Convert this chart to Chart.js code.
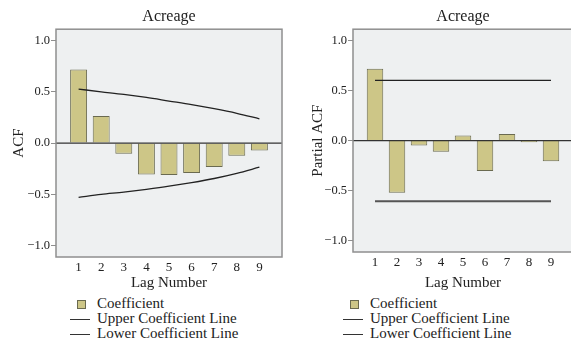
<!DOCTYPE html>
<html>
<head>
<meta charset="utf-8">
<script src="https://cdn.jsdelivr.net/npm/chart.js@4.4.1/dist/chart.umd.min.js"></script>
<style>
  html, body { margin: 0; padding: 0; background: #fff; }
  body { width: 571px; height: 343px; overflow: hidden; position: relative;
         font-family: 'Liberation Serif', 'Times New Roman', serif; color: #222; }
  .panel { position: absolute; top: 0; height: 292px; }
  .legend { position: absolute; top: 296px; font-size: 15px; line-height: 15px; }
  .legend-item { position: relative; height: 15px; padding-left: 27px; white-space: nowrap; }
  .legend-box { position: absolute; left: 7px; top: 4px; width: 7px; height: 7px;
                background: #cdc687; border: 1px solid #6a6a50; }
  .legend-line { position: absolute; left: 0; top: 8px; width: 20px; height: 0;
                 border-top: 1.5px solid #333; }
</style>
</head>
<body>
<div class="panel" style="left:0;width:285px"><canvas id="acfChart"></canvas></div>
<div class="panel" style="left:285px;width:290px"><canvas id="pacfChart"></canvas></div>
<div class="legend" id="acf-legend" style="left:70px"></div>
<div class="legend" id="pacf-legend" style="left:343px"></div>
<script>
// ===== DATA =====
const lags   = [1, 2, 3, 4, 5, 6, 7, 8, 9];
const yTicks = [-1.0, -0.5, 0.0, 0.5, 1.0];

const acf      = [0.717, 0.263, -0.104, -0.306, -0.312, -0.292, -0.234, -0.124, -0.072];
const acfUpper = [0.526, 0.500, 0.475, 0.445, 0.410, 0.375, 0.335, 0.290, 0.237];
const acfLower = [-0.528, -0.500, -0.477, -0.450, -0.420, -0.385, -0.345, -0.295, -0.235];

const pacf      = [0.715, -0.519, -0.050, -0.110, 0.050, -0.303, 0.066, -0.017, -0.207];
const pacfUpper = [0.600, 0.600, 0.600, 0.600, 0.600, 0.600, 0.600, 0.600, 0.600];
const pacfLower = [-0.605, -0.605, -0.605, -0.605, -0.605, -0.605, -0.605, -0.605, -0.605];

const seriesNames = ['Coefficient', 'Upper Coefficient Line', 'Lower Coefficient Line'];
const chartTitle  = 'Acreage';

const SERIF = "'Liberation Serif', 'Times New Roman', serif";
const BAR_FILL = '#cdc687';
const BAR_EDGE = '#6a6a50';

const fmtTick = v => v.toFixed(1).replace('-', '\u2212');
const pts = arr => lags.map((l, i) => ({ x: l, y: arr[i] }));

// plot background, frame and zero line
const framePlugin = {
  id: 'frame',
  beforeDatasetsDraw(chart) {
    const { ctx, chartArea: a } = chart;
    ctx.save();
    ctx.fillStyle = '#eef0f1';
    ctx.fillRect(a.left, a.top, a.width, a.height);
    ctx.restore();
  },
  afterDatasetsDraw(chart) {
    const { ctx, chartArea: a, scales } = chart;
    const y0 = scales.y.getPixelForValue(0);
    ctx.save();
    ctx.strokeStyle = '#333';
    ctx.lineWidth = 1.2;
    ctx.beginPath();
    ctx.moveTo(a.left, y0);
    ctx.lineTo(a.right, y0);
    ctx.stroke();
    ctx.strokeStyle = '#8f8f8f';
    ctx.lineWidth = 1.5;
    ctx.strokeRect(a.left, a.top, a.width, a.height);
    ctx.restore();
  }
};

function makeChart(id, cfg) {
  const canvas = document.getElementById(id);
  return new Chart(canvas, {
    type: 'bar',
    data: {
      datasets: [
        {
          label: seriesNames[0],
          data: pts(cfg.coef),
          backgroundColor: BAR_FILL,
          borderColor: BAR_EDGE,
          borderWidth: 1,
          barPercentage: 0.75,
          categoryPercentage: 1,
          order: 2,
        },
        {
          type: 'line',
          label: seriesNames[1],
          data: pts(cfg.upper),
          borderColor: '#222',
          borderWidth: 1.3,
          pointRadius: 0,
          cubicInterpolationMode: 'monotone',
          order: 1,
        },
        {
          type: 'line',
          label: seriesNames[2],
          data: pts(cfg.lower),
          borderColor: cfg.lowerColor,
          borderWidth: cfg.lowerWidth,
          pointRadius: 0,
          cubicInterpolationMode: 'monotone',
          order: 1,
        }
      ]
    },
    options: {
      responsive: true,
      maintainAspectRatio: false,
      animation: false,
      layout: { padding: { right: cfg.padRight } },
      plugins: {
        legend: { display: false },
        tooltip: { enabled: false },
        title: {
          display: true,
          text: chartTitle,
          fullSize: false,
          color: '#222',
          font: { family: SERIF, size: 16, weight: 'normal' },
          padding: { top: 7, bottom: 3 },
        }
      },
      scales: {
        x: {
          type: 'linear',
          min: 0, max: 10,
          offset: false,
          afterBuildTicks: s => { s.ticks = lags.map(v => ({ value: v })); },
          afterFit: s => { s.height = cfg.xHeight; },
          ticks: { color: '#222', font: { family: SERIF, size: 13 }, padding: 3, maxRotation: 0 },
          grid: { display: false, drawTicks: false },
          border: { display: false },
          title: {
            display: true, text: 'Lag Number', color: '#222',
            font: { family: SERIF, size: 15 }, padding: { top: 0, bottom: 0 }
          }
        },
        y: {
          min: -1.11, max: 1.11,
          afterBuildTicks: s => { s.ticks = yTicks.map(v => ({ value: v })); },
          afterFit: s => { s.width = cfg.yWidth; },
          ticks: { color: '#222', font: { family: SERIF, size: 12.5 }, padding: 1, callback: v => fmtTick(v) },
          grid: { drawOnChartArea: false, drawTicks: true, tickLength: 5, color: '#8f8f8f' },
          border: { display: false },
          title: {
            display: true, text: cfg.yTitle, color: '#222',
            font: { family: SERIF, size: 15 }, padding: { top: cfg.yTitlePad, bottom: 0 }
          }
        }
      }
    },
    plugins: [framePlugin]
  });
}

makeChart('acfChart', {
  coef: acf, upper: acfUpper, lower: acfLower,
  lowerColor: '#222', lowerWidth: 1.3,
  yTitle: 'ACF', yTitlePad: 10, yWidth: 56, xHeight: 35, padRight: 3,
});

makeChart('pacfChart', {
  coef: pacf, upper: pacfUpper, lower: pacfLower,
  lowerColor: '#555', lowerWidth: 2,
  yTitle: 'Partial ACF', yTitlePad: 24, yWidth: 68, xHeight: 40, padRight: 2,
});

// Legend
function renderLegend(elId) {
  document.getElementById(elId).innerHTML = seriesNames.map((name, i) =>
    `<div class="legend-item">
      <span class="${i === 0 ? 'legend-box' : 'legend-line'}"></span>${name}
    </div>`
  ).join('');
}
renderLegend('acf-legend');
renderLegend('pacf-legend');
</script>
</body>
</html>
